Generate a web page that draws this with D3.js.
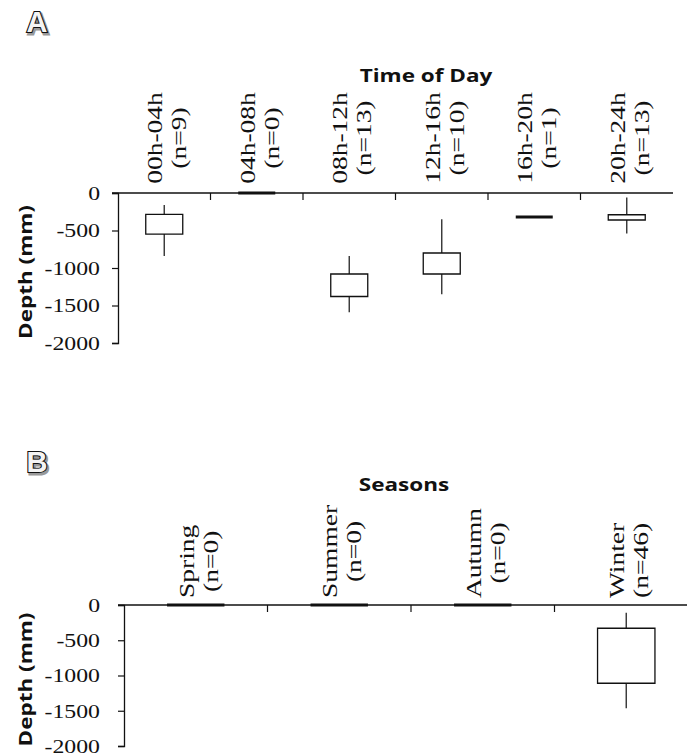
<!DOCTYPE html>
<html>
<head>
<meta charset="utf-8">
<script src="https://cdn.jsdelivr.net/npm/d3@7"></script>
<style>
  html, body { margin: 0; padding: 0; background: #fff; }
  svg { display: block; }
</style>
</head>
<body>
<svg id="chart" width="687" height="756"></svg>
<script>
// ---- Panel A: depth by time of day ----
const timeLabels = ["00h-04h", "04h-08h", "08h-12h", "12h-16h", "16h-20h", "20h-24h"];
const timeCounts = ["(n=9)", "(n=0)", "(n=13)", "(n=10)", "(n=1)", "(n=13)"];
const timeWhiskerHigh = [-160, 0, -840, -350, -320, -60];
const timeBoxTop      = [-285, 0, -1080, -800, -320, -290];
const timeBoxBottom   = [-547, 0, -1380, -1080, -320, -360];
const timeWhiskerLow  = [-840, 0, -1590, -1350, -320, -540];

// ---- Panel B: depth by season ----
const seasonLabels = ["Spring", "Summer", "Autumn", "Winter"];
const seasonCounts = ["(n=0)", "(n=0)", "(n=0)", "(n=46)"];
const seasonWhiskerHigh = [0, 0, 0, -110];
const seasonBoxTop      = [0, 0, 0, -330];
const seasonBoxBottom   = [0, 0, 0, -1110];
const seasonWhiskerLow  = [0, 0, 0, -1465];

const depthTicks = [0, -500, -1000, -1500, -2000];

const STRETCH = 1.25;           // text in this figure is drawn wide
const SERIF = "'Liberation Serif', 'Times New Roman', serif";
const SANS = "'Open Sans', 'DejaVu Sans', sans-serif";
const INK = "#111";

const svg = d3.select("#chart");

function panel(opts) {
  const g = svg.append("g");
  const x = d3.scaleBand().domain(opts.labels).range([opts.left, opts.right]).paddingInner(0).paddingOuter(0);
  const y = d3.scaleLinear().domain([-2000, 0]).range([opts.bottom, opts.top]);

  // y axis
  const yAxis = d3.axisLeft(y).tickValues(depthTicks).tickSize(6).tickPadding(0).tickFormat(d3.format("d"));
  const ya = g.append("g").attr("transform", `translate(${opts.left},0)`).call(yAxis);
  ya.select(".domain").attr("stroke", INK).attr("stroke-width", 1.3);
  ya.selectAll(".tick line").attr("stroke", INK).attr("stroke-width", 1.2);
  ya.selectAll(".tick text")
    .attr("x", null).attr("dy", "0.34em")
    .attr("text-anchor", "end")
    .attr("transform", `translate(${-opts.tickGap},0) scale(${STRETCH},1)`)
    .style("font-family", SERIF).style("font-size", "19px").attr("fill", INK)
    .text(d => d === 0 ? "0" : "-" + Math.abs(d));

  // category axis along depth 0
  const x0 = y(0);
  g.append("line")
    .attr("x1", opts.left - 6).attr("x2", opts.right)
    .attr("y1", x0).attr("y2", x0)
    .attr("stroke", INK).attr("stroke-width", 1.3);
  g.selectAll(".cat-tick")
    .data(opts.labels.slice(1))
    .join("line")
    .attr("class", "cat-tick")
    .attr("x1", d => x(d)).attr("x2", d => x(d))
    .attr("y1", x0).attr("y2", x0 + 7)
    .attr("stroke", INK).attr("stroke-width", 1.2);

  // y title
  g.append("g")
    .attr("transform", `translate(${opts.yTitleX},${(y(0) + y(-2000)) / 2 + 4}) rotate(-90) scale(${STRETCH},1)`)
    .append("text")
    .attr("text-anchor", "middle")
    .style("font-family", SANS).style("font-weight", 700).style("font-size", "18px")
    .attr("fill", INK)
    .text("Depth (mm)");

  // chart title
  g.append("g")
    .attr("transform", `translate(${opts.titleX},${opts.titleY}) scale(${STRETCH},1)`)
    .append("text")
    .attr("text-anchor", "middle")
    .style("font-family", SANS).style("font-weight", 700).style("font-size", "18px")
    .attr("fill", INK)
    .text(opts.title);

  // rotated category labels, two lines each
  opts.labels.forEach((lab, i) => {
    const cx = x(lab) + x.bandwidth() / 2;
    const l1 = g.append("g")
      .attr("transform", `translate(${cx - 2},${opts.labelY}) rotate(-90) scale(${STRETCH},1)`)
      .append("text")
      .attr("text-anchor", opts.labelAnchor)
      .style("font-family", SERIF).style("font-size", "22px").attr("fill", INK)
      .text(lab);
    // second line is centred on the first one
    let y2 = opts.labelY;
    if (opts.labelAnchor === "start") {
      y2 = opts.labelY - l1.node().getComputedTextLength() * STRETCH / 2;
    }
    g.append("g")
      .attr("transform", `translate(${cx + 22},${y2}) rotate(-90) scale(${STRETCH},1)`)
      .append("text")
      .attr("text-anchor", "middle")
      .style("font-family", SERIF).style("font-size", "22px").attr("fill", INK)
      .text(opts.counts[i]);
  });

  // box plots (whisker behind a white box; a flat box shows as a heavy bar)
  const data = opts.labels.map((lab, i) => ({
    lab, hi: opts.hi[i], top: opts.top_[i], bot: opts.bot[i], lo: opts.lo[i]
  }));
  const bw = x.bandwidth() * 0.4;
  const cxOf = d => x(d.lab) + x.bandwidth() / 2;
  const boxes = g.selectAll(".box").data(data).join("g").attr("class", "box");
  boxes.filter(d => d.hi !== d.lo).append("line")
    .attr("x1", cxOf).attr("x2", cxOf)
    .attr("y1", d => y(d.hi)).attr("y2", d => y(d.lo))
    .attr("stroke", "#333").attr("stroke-width", 1.4);
  boxes.append("path")
    .attr("d", d => {
      const xa = cxOf(d) - bw / 2, xb = cxOf(d) + bw / 2;
      return `M${xa},${y(d.top)}H${xb}V${y(d.bot)}H${xa}Z`;
    })
    .attr("fill", "#fff")
    .attr("stroke", INK)
    .attr("stroke-width", d => d.top === d.bot ? 2.8 : 1.3);
  return g;
}

panel({
  labels: timeLabels, counts: timeCounts,
  hi: timeWhiskerHigh, top_: timeBoxTop, bot: timeBoxBottom, lo: timeWhiskerLow,
  left: 118, right: 673, top: 193, bottom: 343,
  tickGap: 18, yTitleX: 32,
  title: "Time of Day", titleX: 426, titleY: 82,
  labelY: 138, labelAnchor: "middle"
});

panel({
  labels: seasonLabels, counts: seasonCounts,
  hi: seasonWhiskerHigh, top_: seasonBoxTop, bot: seasonBoxBottom, lo: seasonWhiskerLow,
  left: 124, right: 698, top: 605, bottom: 746,
  tickGap: 24, yTitleX: 32,
  title: "Seasons", titleX: 404, titleY: 491,
  labelY: 598, labelAnchor: "start"
});

// outlined panel letters
[["A", 37, 32], ["B", 37, 472]].forEach(([t, px, py]) => {
  svg.append("text")
    .attr("x", px + 1.5).attr("y", py + 1.5)
    .attr("text-anchor", "middle")
    .style("font-family", "'Liberation Sans', Arial, sans-serif")
    .style("font-weight", 700).style("font-size", "29px")
    .attr("fill", "none").attr("stroke", "#999").attr("stroke-width", 3)
    .text(t);
  svg.append("text")
    .attr("x", px).attr("y", py)
    .attr("text-anchor", "middle")
    .style("font-family", "'Liberation Sans', Arial, sans-serif")
    .style("font-weight", 700).style("font-size", "29px")
    .attr("fill", "#f4f4f4").attr("stroke", "#111").attr("stroke-width", 2.2)
    .attr("paint-order", "stroke")
    .text(t);
});
</script>
</body>
</html>
